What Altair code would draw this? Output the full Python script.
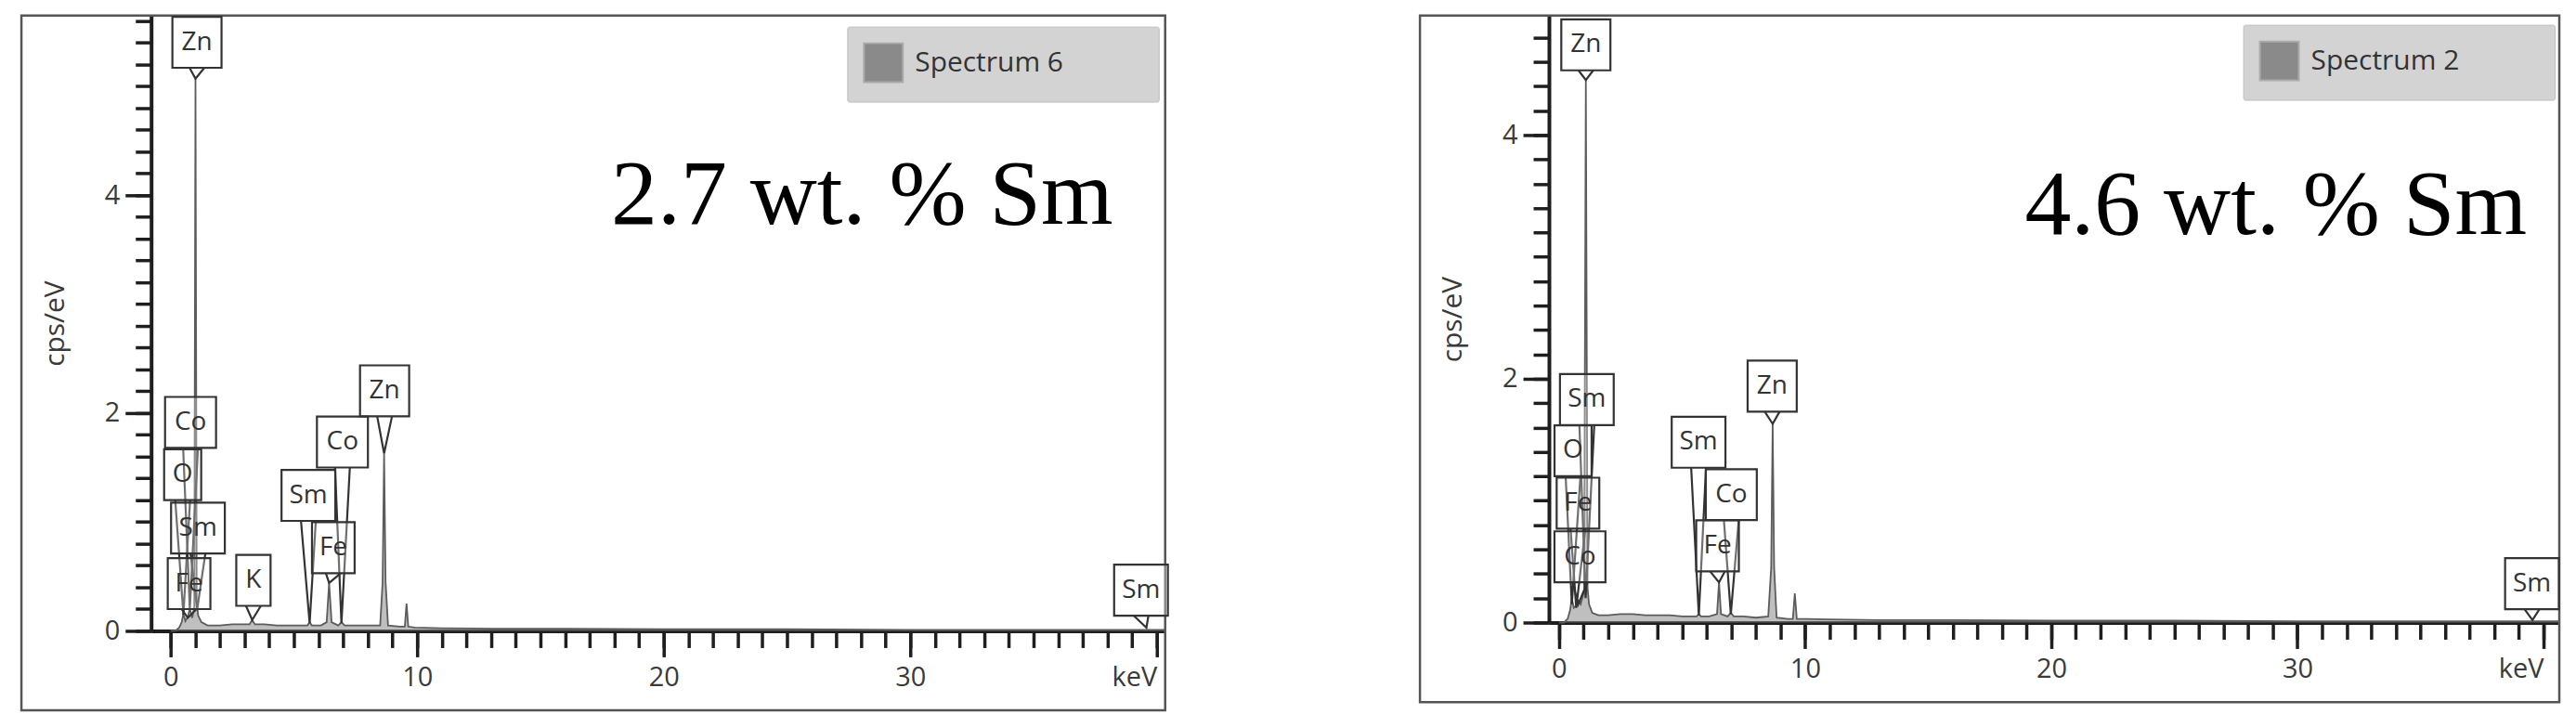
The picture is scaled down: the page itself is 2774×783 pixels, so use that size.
import altair as alt
import pandas as pd

# ---------------- data ----------------
# Spectrum 6 (2.7 wt.% Sm)
energy_6 = [0.0, 0.20, 0.35, 0.45, 0.52, 0.60, 0.70, 0.78, 0.88, 0.96, 1.01, 1.06, 1.12, 1.25, 1.50,
            2.00, 2.50, 3.00, 3.20, 3.31, 3.42, 3.80, 4.30, 4.80, 5.30, 5.55, 5.64, 5.73, 6.10, 6.33,
            6.43, 6.53, 6.80, 6.93, 7.06, 7.50, 8.00, 8.50, 8.60, 8.66, 8.72, 8.82, 9.30, 9.50, 9.57,
            9.64, 9.90, 11.0, 13.0, 16.0, 20.0, 25.0, 30.0, 35.0, 40.34]
cps_6 = [0.0, 0.0, 0.03, 0.08, 0.16, 0.09, 0.13, 0.20, 0.12, 0.22, 5.07, 0.26, 0.14, 0.08, 0.05,
         0.05, 0.06, 0.06, 0.06, 0.10, 0.06, 0.06, 0.05, 0.05, 0.05, 0.05, 0.08, 0.05, 0.05, 0.08,
         0.44, 0.08, 0.05, 0.08, 0.05, 0.05, 0.05, 0.05, 0.45, 1.63, 0.45, 0.05, 0.04, 0.04, 0.25,
         0.04, 0.03, 0.025, 0.02, 0.02, 0.015, 0.015, 0.01, 0.01, 0.01]

# Spectrum 2 (4.6 wt.% Sm)
energy_2 = [0.0, 0.20, 0.35, 0.45, 0.52, 0.60, 0.70, 0.78, 0.88, 1.02, 1.09, 1.16, 1.22, 1.35, 1.60,
            2.00, 2.50, 3.00, 3.50, 4.00, 4.50, 5.00, 5.40, 5.59, 5.68, 5.77, 6.10, 6.42, 6.50, 6.58,
            6.85, 6.98, 7.10, 7.50, 8.00, 8.50, 8.62, 8.68, 8.74, 8.84, 9.30, 9.50, 9.58, 9.66, 10.0,
            11.0, 13.0, 16.0, 20.0, 25.0, 30.0, 35.0, 40.64]
cps_2 = [0.0, 0.0, 0.03, 0.10, 0.20, 0.12, 0.14, 0.18, 0.15, 0.26, 4.45, 0.28, 0.15, 0.08, 0.06,
         0.06, 0.07, 0.07, 0.06, 0.06, 0.06, 0.05, 0.05, 0.05, 0.07, 0.05, 0.05, 0.07, 0.33, 0.07,
         0.05, 0.08, 0.05, 0.05, 0.04, 0.05, 0.45, 1.63, 0.45, 0.04, 0.03, 0.03, 0.24, 0.03, 0.03,
         0.025, 0.02, 0.02, 0.015, 0.015, 0.01, 0.01, 0.01]

# peak labels: element, peak energy, peak height (pointer tip), box centre energy, box bottom level
lab6_el = ["Zn", "Co", "O", "Sm", "Fe", "K", "Sm", "Fe", "Co", "Zn", "Sm"]
lab6_peak = [1.01, 0.78, 0.52, 1.08, 0.70, 3.31, 5.64, 6.43, 6.93, 8.66, 39.58]
lab6_tip = [5.07, 0.20, 0.15, 0.20, 0.12, 0.10, 0.07, 0.44, 0.07, 1.63, 0.03]
lab6_cx = [1.07, 0.81, 0.49, 1.11, 0.75, 3.36, 5.59, 6.60, 6.97, 8.68, 39.36]
lab6_bot = [5.17, 1.68, 1.20, 0.71, 0.20, 0.23, 1.01, 0.53, 1.50, 1.97, 0.14]

lab2_el = ["Zn", "Sm", "O", "Fe", "Co", "Sm", "Co", "Fe", "Zn", "Sm"]
lab2_peak = [1.09, 1.08, 0.52, 0.70, 0.78, 5.68, 6.98, 6.50, 8.68, 39.55]
lab2_tip = [4.45, 0.20, 0.15, 0.12, 0.15, 0.06, 0.07, 0.33, 1.63, 0.02]
lab2_cx = [1.09, 1.13, 0.57, 0.77, 0.85, 5.67, 7.00, 6.44, 8.66, 39.53]
lab2_bot = [4.53, 1.62, 1.20, 0.77, 0.33, 1.27, 0.84, 0.42, 1.73, 0.11]

series_names = ["Spectrum 6", "Spectrum 2"]
notes = ["2.7 wt. % Sm", "4.6 wt. % Sm"]
x_major_ticks = [0, 10, 20, 30, 40]
y_major_ticks = [0, 2, 4]

# ---------------- styling ----------------
BOX_W = {"Zn": 53, "Co": 55, "O": 40, "Sm": 58, "Fe": 46, "K": 37}
BOX_H = 55
V_HALF = 8
FONT = "Open Sans"
DARK = "#1e1e1e"
TXT = "#3a3a3a"
PAD_TAIL = "\u00a0" * 11 + "\u200b"


def panel(name, note, energy, cps, lab_el, lab_peak, lab_tip, lab_cx, lab_bot,
          xdom, ydom, frame_x, frame_y, width, height, note_xy, legend_xy, y_minor_top):
    kpp = (xdom[1] - xdom[0]) / width
    cpp = (ydom[1] - ydom[0]) / height
    xs = alt.Scale(domain=xdom, nice=False, zero=False)
    ys = alt.Scale(domain=ydom, nice=False, zero=False)

    x_minor = [i for i in range(0, 41)]
    y_minor = [round(i * 0.2, 1) for i in range(0, int(round(y_minor_top / 0.2)) + 1)]

    ax_x_major = alt.Axis(orient="bottom", values=x_major_ticks, tickSize=28, tickWidth=3.5,
                          tickColor=DARK, domainColor=DARK, domainWidth=4, grid=False,
                          labelFont=FONT, labelFontSize=29, labelColor=TXT, labelPadding=8,
                          labelFlush=False, title=None,
                          labelExpr="datum.value >= 40 ? 'keV' : datum.label",
                          labelAlign={"condition": {"test": "datum.value >= 40", "value": "right"},
                                      "value": "center"})
    ax_y_major = alt.Axis(orient="left", values=y_major_ticks, tickSize=28, tickWidth=3.5,
                          tickColor=DARK, domainColor=DARK, domainWidth=4, grid=False,
                          labelFont=FONT, labelFontSize=29, labelColor=TXT, labelPadding=6,
                          title="cps/eV", titleFont=FONT, titleFontSize=30, titleFontWeight="normal",
                          titleColor=TXT, titlePadding=38)
    ax_x_minor = alt.Axis(orient="bottom", values=x_minor, tickSize=18, tickWidth=3.5,
                          tickColor=DARK, domain=False, labels=False, grid=False, title=None)
    ax_y_minor = alt.Axis(orient="left", values=y_minor, tickSize=17, tickWidth=3.5,
                          tickColor=DARK, domain=False, labels=False, grid=False, title=None)

    frame_df = pd.DataFrame({"x0": [frame_x[0]], "x1": [frame_x[1]],
                             "y0": [frame_y[0]], "y1": [frame_y[1]]})
    frame = alt.Chart(frame_df).mark_rect(fillOpacity=0, stroke="#555555", strokeWidth=2.5,
                                          clip=False).encode(
        x=alt.X("x0:Q", scale=xs, axis=None), x2="x1:Q",
        y=alt.Y("y0:Q", scale=ys, axis=None), y2="y1:Q")

    spec = pd.DataFrame({"keV": energy, "cps": cps, "series": name})
    leg = alt.Legend(orient="none", legendX=legend_xy[0], legendY=legend_xy[1], title=None,
                     symbolType="square", symbolSize=1764, symbolStrokeColor="#ababab",
                     symbolStrokeWidth=2, symbolOpacity=1, labelFont=FONT, labelFontSize=30,
                     labelColor="#333333", labelOffset=12, padding=17, fillColor="#d3d3d3",
                     strokeColor="#bdbdbd", cornerRadius=2, labelLimit=600,
                     labelExpr="datum.label + '" + PAD_TAIL + "'")
    area = alt.Chart(spec).mark_area(opacity=0.55).encode(
        x=alt.X("keV:Q", scale=xs, axis=ax_x_major),
        y=alt.Y("cps:Q", scale=ys, axis=ax_y_major),
        color=alt.Color("series:N", scale=alt.Scale(domain=[name], range=["#8a8a8a"]), legend=leg))
    line = alt.Chart(spec).mark_line(color="#5c5c5c", strokeWidth=1.8).encode(
        x=alt.X("keV:Q", scale=xs, axis=ax_x_minor),
        y=alt.Y("cps:Q", scale=ys, axis=ax_y_minor))

    vrows, brows = [], []
    for i, (el, pk, tp, cx, bt) in enumerate(zip(lab_el, lab_peak, lab_tip, lab_cx, lab_bot)):
        vrows += [{"id": i, "o": 0, "x": cx - V_HALF * kpp, "y": bt},
                  {"id": i, "o": 1, "x": pk, "y": tp},
                  {"id": i, "o": 2, "x": cx + V_HALF * kpp, "y": bt}]
        hw = BOX_W[el] / 2 * kpp
        brows.append({"el": el, "x0": cx - hw, "x1": cx + hw, "y0": bt, "y1": bt + BOX_H * cpp,
                      "xc": cx, "yc": bt + BOX_H * cpp / 2})
    vdf = pd.DataFrame(vrows)
    bdf = pd.DataFrame(brows)
    pointers = alt.Chart(vdf).mark_line(color="#333333", strokeWidth=2.2).encode(
        x=alt.X("x:Q", scale=xs, axis=None), y=alt.Y("y:Q", scale=ys, axis=None),
        detail="id:N", order="o:Q")
    boxes = alt.Chart(bdf).mark_rect(fill="white", fillOpacity=0.3, stroke="#333333",
                                     strokeWidth=2.2).encode(
        x=alt.X("x0:Q", scale=xs, axis=None), x2="x1:Q",
        y=alt.Y("y0:Q", scale=ys, axis=None), y2="y1:Q")
    btext = alt.Chart(bdf).mark_text(font=FONT, fontSize=28, color="#333333",
                                     baseline="middle", align="center").encode(
        x=alt.X("xc:Q", scale=xs, axis=None), y=alt.Y("yc:Q", scale=ys, axis=None), text="el:N")

    ndf = pd.DataFrame({"x": [note_xy[0]], "y": [note_xy[1]], "t": [note]})
    ntext = alt.Chart(ndf).mark_text(font="Liberation Serif", fontSize=100, color="black",
                                     align="right", baseline="alphabetic").encode(
        x=alt.X("x:Q", scale=xs, axis=None), y=alt.Y("y:Q", scale=ys, axis=None), text="t:N")

    return alt.layer(frame, area, line, pointers, boxes, btext, ntext).resolve_axis(
        x="independent", y="independent").properties(width=width, height=height)


left = panel(series_names[0], notes[0], energy_6, cps_6, lab6_el, lab6_peak, lab6_tip, lab6_cx,
             lab6_bot, xdom=[-0.79, 40.34], ydom=[0, 5.65], frame_x=[-6.05, 40.34],
             frame_y=[-0.73, 5.65], width=1094, height=664, note_xy=[38.23, 3.74],
             legend_xy=[751, 12], y_minor_top=5.6)
right = panel(series_names[1], notes[1], energy_2, cps_2, lab2_el, lab2_peak, lab2_tip, lab2_cx,
              lab2_bot, xdom=[-0.41, 40.64], ydom=[0, 4.98], frame_x=[-5.65, 40.64],
              frame_y=[-0.654, 4.98], width=1090, height=655, note_xy=[39.32, 3.19],
              legend_xy=[749, 10], y_minor_top=4.8)

chart = alt.hconcat(left, right, spacing=268).resolve_scale(color="independent").configure_view(
    stroke="transparent").properties(padding={"left": 13, "top": 6, "right": 5, "bottom": 5},
                                     background="white")

chart.save("out.html", embed_options={"renderer": "svg", "actions": False})
